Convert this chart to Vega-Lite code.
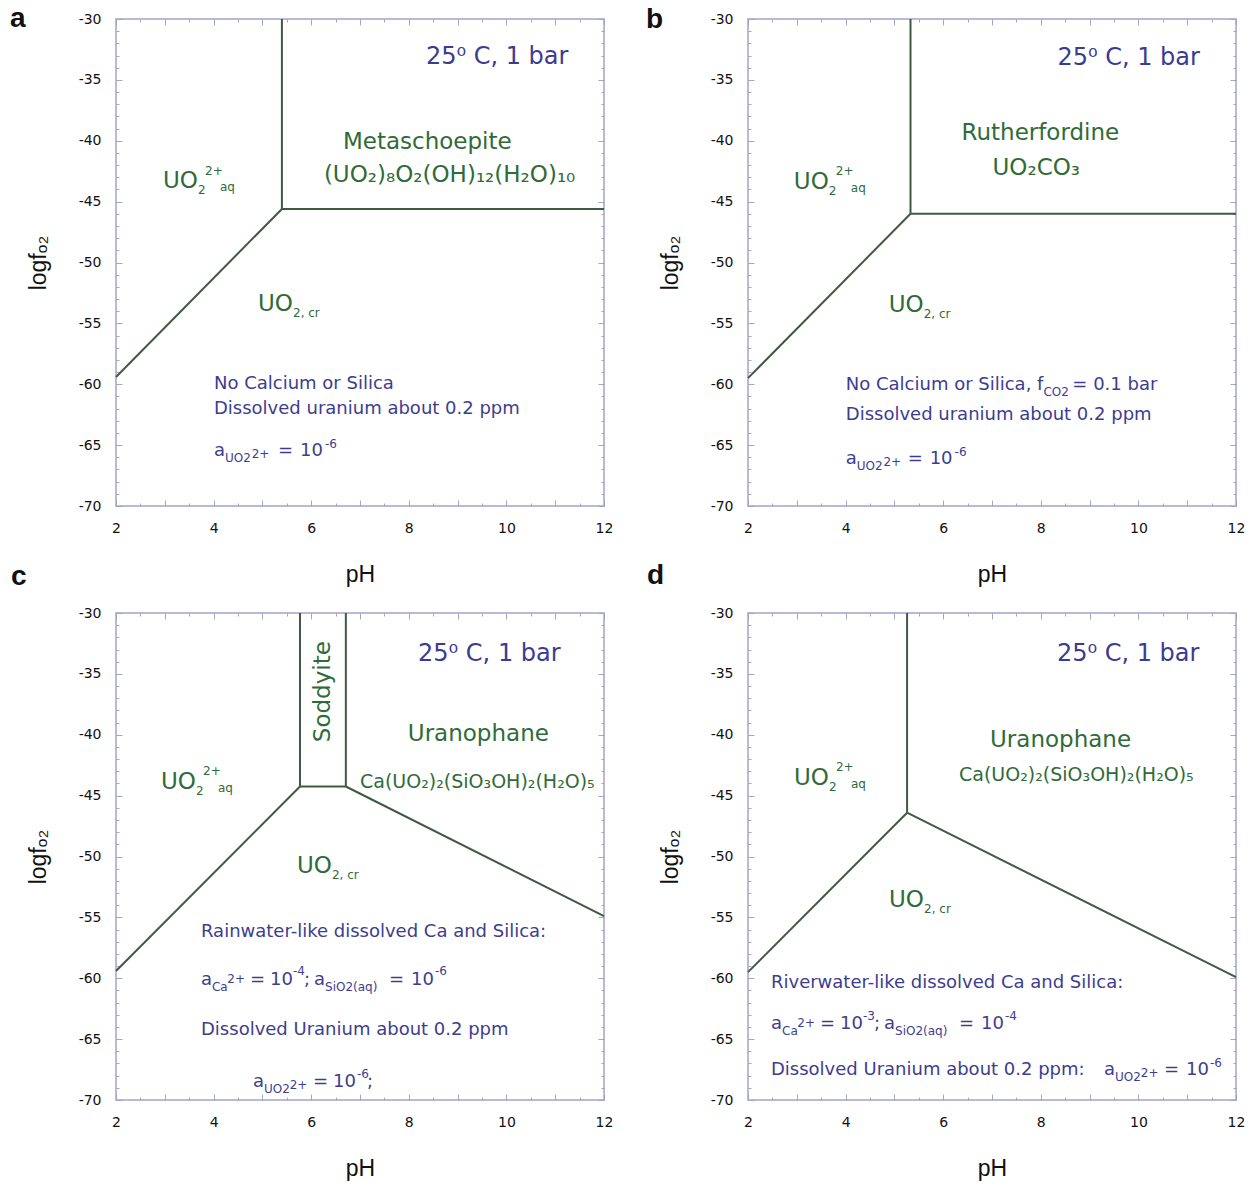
{
  "$schema": "https://vega.github.io/schema/vega-lite/v6.json",
  "padding": {"left": 9, "top": 4, "right": 5, "bottom": 2},
  "bounds": "flush",
  "columns": 2,
  "spacing": {"row": 107, "column": 144},
  "datasets": {
    "lines": [
      {"panel": "a", "x": 5.40, "y": -30, "x2": 5.40, "y2": -45.6},
      {"panel": "a", "x": 5.40, "y": -45.6, "x2": 12, "y2": -45.6},
      {"panel": "a", "x": 2, "y": -59.4, "x2": 5.40, "y2": -45.6},
      {"panel": "b", "x": 5.33, "y": -30, "x2": 5.33, "y2": -46.0},
      {"panel": "b", "x": 5.33, "y": -46.0, "x2": 12, "y2": -46.0},
      {"panel": "b", "x": 2, "y": -59.5, "x2": 5.33, "y2": -46.0},
      {"panel": "c", "x": 5.77, "y": -30, "x2": 5.77, "y2": -44.25},
      {"panel": "c", "x": 6.71, "y": -30, "x2": 6.71, "y2": -44.25},
      {"panel": "c", "x": 5.77, "y": -44.25, "x2": 6.71, "y2": -44.25},
      {"panel": "c", "x": 2, "y": -59.4, "x2": 5.77, "y2": -44.25},
      {"panel": "c", "x": 6.71, "y": -44.25, "x2": 12, "y2": -54.9},
      {"panel": "d", "x": 5.26, "y": -30, "x2": 5.26, "y2": -46.4},
      {"panel": "d", "x": 2, "y": -59.5, "x2": 5.26, "y2": -46.4},
      {"panel": "d", "x": 5.26, "y": -46.4, "x2": 12, "y2": -59.9}
    ],
    "blueHead": [
      {"panel": "a", "x": 8.35, "y": -33.7, "label": "25⁰ C, 1 bar"},
      {"panel": "b", "x": 8.34, "y": -33.79, "label": "25⁰ C, 1 bar"},
      {"panel": "c", "x": 8.19, "y": -33.93, "label": "25⁰ C, 1 bar"},
      {"panel": "d", "x": 8.33, "y": -33.94, "label": "25⁰ C, 1 bar"}
    ],
    "greenBig": [
      {"panel": "a", "x": 6.65, "y": -40.68, "label": "Metaschoepite"},
      {"panel": "a", "x": 6.26, "y": -43.39, "label": "(UO₂)₈O₂(OH)₁₂(H₂O)₁₀"},
      {"panel": "a", "x": 2.963, "y": -43.88, "label": "UO"},
      {"panel": "a", "x": 4.91, "y": -53.98, "label": "UO"},
      {"panel": "b", "x": 6.376, "y": -39.96, "label": "Rutherfordine"},
      {"panel": "b", "x": 7.01, "y": -42.84, "label": "UO₂CO₃"},
      {"panel": "b", "x": 2.94, "y": -43.99, "label": "UO"},
      {"panel": "b", "x": 4.883, "y": -54.03, "label": "UO"},
      {"panel": "c", "x": 7.98, "y": -40.55, "label": "Uranophane"},
      {"panel": "c", "x": 2.922, "y": -44.48, "label": "UO"},
      {"panel": "c", "x": 5.709, "y": -51.35, "label": "UO"},
      {"panel": "d", "x": 6.959, "y": -41.01, "label": "Uranophane"},
      {"panel": "d", "x": 2.943, "y": -44.13, "label": "UO"},
      {"panel": "d", "x": 4.889, "y": -54.15, "label": "UO"}
    ],
    "greenSmall": [
      {"panel": "a", "x": 3.68, "y": -44.37, "label": "2"},
      {"panel": "a", "x": 3.824, "y": -42.81, "label": "2+"},
      {"panel": "a", "x": 4.131, "y": -44.13, "label": "aq"},
      {"panel": "a", "x": 5.627, "y": -54.48, "label": "2, cr"},
      {"panel": "b", "x": 3.656, "y": -44.49, "label": "2"},
      {"panel": "b", "x": 3.8, "y": -42.84, "label": "2+"},
      {"panel": "b", "x": 4.106, "y": -44.24, "label": "aq"},
      {"panel": "b", "x": 5.599, "y": -54.53, "label": "2, cr"},
      {"panel": "c", "x": 3.639, "y": -44.97, "label": "2"},
      {"panel": "c", "x": 3.783, "y": -43.33, "label": "2+"},
      {"panel": "c", "x": 4.09, "y": -44.72, "label": "aq"},
      {"panel": "c", "x": 6.426, "y": -51.84, "label": "2, cr"},
      {"panel": "d", "x": 3.66, "y": -44.62, "label": "2"},
      {"panel": "d", "x": 3.803, "y": -42.98, "label": "2+"},
      {"panel": "d", "x": 4.111, "y": -44.37, "label": "aq"},
      {"panel": "d", "x": 5.607, "y": -54.64, "label": "2, cr"}
    ],
    "greenMid": [
      {"panel": "c", "x": 7.0, "y": -44.4, "label": "Ca(UO₂)₂(SiO₃OH)₂(H₂O)₅"},
      {"panel": "d", "x": 6.324, "y": -43.8, "label": "Ca(UO₂)₂(SiO₃OH)₂(H₂O)₅"}
    ],
    "greenRot": [
      {"panel": "c", "x": 6.24, "y": -36.46, "label": "Soddyite"}
    ],
    "blueNote": [
      {"panel": "a", "x": 4.008, "y": -60.39, "label": "No Calcium or Silica"},
      {"panel": "a", "x": 4.008, "y": -62.44, "label": "Dissolved uranium about 0.2 ppm"},
      {"panel": "a", "x": 4.008, "y": -65.89, "label": "a"},
      {"panel": "a", "x": 5.32, "y": -65.89, "label": "="},
      {"panel": "a", "x": 5.77, "y": -65.89, "label": "10"},
      {"panel": "b", "x": 4.004, "y": -60.45, "label": "No Calcium or Silica, f"},
      {"panel": "b", "x": 8.646, "y": -60.45, "label": "= 0.1 bar"},
      {"panel": "b", "x": 4.004, "y": -62.92, "label": "Dissolved uranium about 0.2 ppm"},
      {"panel": "b", "x": 4.004, "y": -66.54, "label": "a"},
      {"panel": "b", "x": 5.272, "y": -66.54, "label": "="},
      {"panel": "b", "x": 5.722, "y": -66.54, "label": "10"},
      {"panel": "c", "x": 3.742, "y": -56.59, "label": "Rainwater-like dissolved Ca and Silica:"},
      {"panel": "c", "x": 3.742, "y": -60.59, "label": "a"},
      {"panel": "c", "x": 4.746, "y": -60.59, "label": "="},
      {"panel": "c", "x": 5.156, "y": -60.59, "label": "10"},
      {"panel": "c", "x": 5.852, "y": -60.59, "label": ";"},
      {"panel": "c", "x": 6.057, "y": -60.59, "label": "a"},
      {"panel": "c", "x": 7.594, "y": -60.59, "label": "="},
      {"panel": "c", "x": 8.045, "y": -60.59, "label": "10"},
      {"panel": "c", "x": 3.742, "y": -64.68, "label": "Dissolved Uranium about 0.2 ppm"},
      {"panel": "c", "x": 4.807, "y": -68.94, "label": "a"},
      {"panel": "c", "x": 6.037, "y": -68.94, "label": "="},
      {"panel": "c", "x": 6.447, "y": -68.94, "label": "10"},
      {"panel": "c", "x": 7.143, "y": -68.94, "label": ";"},
      {"panel": "d", "x": 2.471, "y": -60.8, "label": "Riverwater-like dissolved Ca and Silica:"},
      {"panel": "d", "x": 2.472, "y": -64.17, "label": "a"},
      {"panel": "d", "x": 3.476, "y": -64.17, "label": "="},
      {"panel": "d", "x": 3.886, "y": -64.17, "label": "10"},
      {"panel": "d", "x": 4.582, "y": -64.17, "label": ";"},
      {"panel": "d", "x": 4.787, "y": -64.17, "label": "a"},
      {"panel": "d", "x": 6.324, "y": -64.17, "label": "="},
      {"panel": "d", "x": 6.775, "y": -64.17, "label": "10"},
      {"panel": "d", "x": 2.471, "y": -67.95, "label": "Dissolved Uranium about 0.2 ppm:"},
      {"panel": "d", "x": 9.295, "y": -67.95, "label": "a"},
      {"panel": "d", "x": 10.525, "y": -67.95, "label": "="},
      {"panel": "d", "x": 10.975, "y": -67.95, "label": "10"}
    ],
    "blueSmall": [
      {"panel": "a", "x": 4.234, "y": -66.39, "label": "UO2"},
      {"panel": "a", "x": 4.78, "y": -66.06, "label": "2+"},
      {"panel": "a", "x": 6.283, "y": -65.24, "label": "-6"},
      {"panel": "b", "x": 8.053, "y": -60.95, "label": "CO2"},
      {"panel": "b", "x": 4.229, "y": -67.04, "label": "UO2"},
      {"panel": "b", "x": 4.775, "y": -66.71, "label": "2+"},
      {"panel": "b", "x": 6.233, "y": -65.88, "label": "-6"},
      {"panel": "c", "x": 3.967, "y": -61.08, "label": "Ca"},
      {"panel": "c", "x": 4.28, "y": -60.43, "label": "2+"},
      {"panel": "c", "x": 5.627, "y": -59.77, "label": "-4"},
      {"panel": "c", "x": 6.283, "y": -61.08, "label": "SiO2(aq)"},
      {"panel": "c", "x": 8.537, "y": -59.77, "label": "-6"},
      {"panel": "c", "x": 5.033, "y": -69.43, "label": "UO2"},
      {"panel": "c", "x": 5.56, "y": -69.1, "label": "2+"},
      {"panel": "c", "x": 6.939, "y": -68.2, "label": "-6"},
      {"panel": "d", "x": 2.697, "y": -64.66, "label": "Ca"},
      {"panel": "d", "x": 3.01, "y": -64.0, "label": "2+"},
      {"panel": "d", "x": 4.357, "y": -63.43, "label": "-3"},
      {"panel": "d", "x": 5.013, "y": -64.66, "label": "SiO2(aq)"},
      {"panel": "d", "x": 7.267, "y": -63.43, "label": "-4"},
      {"panel": "d", "x": 9.52, "y": -68.44, "label": "UO2"},
      {"panel": "d", "x": 10.05, "y": -68.11, "label": "2+"},
      {"panel": "d", "x": 11.467, "y": -67.29, "label": "-6"}
    ]
  },
  "concat": [
    {
      "width": 488, "height": 487,
      "title": {"text": "a", "anchor": "start", "frame": "group", "orient": "top", "offset": 0, "baseline": "middle", "dx": -106, "dy": 35},
      "resolve": {"axis": {"x": "independent", "y": "independent"}},
      "layer": [
        {"data": {"name": "lines"}, "transform": [{"filter": "datum.panel == 'a'"}],
         "mark": {"type": "rule", "color": "#3f5a41", "strokeWidth": 2},
         "encoding": {
           "x": {"field": "x", "type": "quantitative", "scale": {"domain": [2, 12], "nice": false, "zero": false}, "axis": {"orient": "bottom", "values": [2, 4, 6, 8, 10, 12], "ticks": false, "labelPadding": 15, "labelFlush": false, "labelOverlap": false, "title": "pH", "titlePadding": 28}},
           "y": {"field": "y", "type": "quantitative", "scale": {"domain": [-70, -30], "nice": false, "zero": false}, "axis": {"orient": "left", "values": [-70, -65, -60, -55, -50, -45, -40, -35, -30], "labelExpr": "'' + datum.value", "ticks": false, "labelPadding": 15, "labelOverlap": false, "title": "logfₒ₂", "titlePadding": 28}},
           "x2": {"field": "x2"}, "y2": {"field": "y2"}}},
        {"data": {"name": "greenBig"}, "transform": [{"filter": "datum.panel == 'a'"}],
         "mark": {"type": "text", "align": "left", "baseline": "alphabetic", "fontSize": 23, "color": "#2f6b38"},
         "encoding": {
           "x": {"field": "x", "type": "quantitative", "axis": {"orient": "bottom", "values": [2, 3, 4, 5, 6, 7, 8, 9, 10, 11, 12], "labels": false, "title": null, "tickSize": -6}},
           "y": {"field": "y", "type": "quantitative", "axis": {"orient": "left", "values": [-70, -65, -60, -55, -50, -45, -40, -35, -30], "labels": false, "title": null, "tickSize": -6}},
           "text": {"field": "label"}}},
        {"data": {"name": "greenSmall"}, "transform": [{"filter": "datum.panel == 'a'"}],
         "mark": {"type": "text", "align": "left", "baseline": "alphabetic", "fontSize": 12, "color": "#2f6b38"},
         "encoding": {
           "x": {"field": "x", "type": "quantitative", "axis": {"orient": "bottom", "values": [2, 2.5, 3, 3.5, 4, 4.5, 5, 5.5, 6, 6.5, 7, 7.5, 8, 8.5, 9, 9.5, 10, 10.5, 11, 11.5, 12], "labels": false, "title": null, "tickSize": -3}},
           "y": {"field": "y", "type": "quantitative", "axis": {"orient": "left", "values": [-70, -69, -68, -67, -66, -65, -64, -63, -62, -61, -60, -59, -58, -57, -56, -55, -54, -53, -52, -51, -50, -49, -48, -47, -46, -45, -44, -43, -42, -41, -40, -39, -38, -37, -36, -35, -34, -33, -32, -31, -30], "labels": false, "title": null, "tickSize": -3}},
           "text": {"field": "label"}}},
        {"data": {"name": "blueNote"}, "transform": [{"filter": "datum.panel == 'a'"}],
         "mark": {"type": "text", "align": "left", "baseline": "alphabetic", "fontSize": 18, "color": "#3d3d8f"},
         "encoding": {
           "x": {"field": "x", "type": "quantitative", "axis": {"orient": "top", "values": [2, 3, 4, 5, 6, 7, 8, 9, 10, 11, 12], "labels": false, "title": null, "tickSize": -6}},
           "y": {"field": "y", "type": "quantitative", "axis": {"orient": "right", "values": [-70, -65, -60, -55, -50, -45, -40, -35, -30], "labels": false, "title": null, "tickSize": -6}},
           "text": {"field": "label"}}},
        {"data": {"name": "blueSmall"}, "transform": [{"filter": "datum.panel == 'a'"}],
         "mark": {"type": "text", "align": "left", "baseline": "alphabetic", "fontSize": 12, "color": "#3d3d8f"},
         "encoding": {
           "x": {"field": "x", "type": "quantitative", "axis": {"orient": "top", "values": [2, 2.5, 3, 3.5, 4, 4.5, 5, 5.5, 6, 6.5, 7, 7.5, 8, 8.5, 9, 9.5, 10, 10.5, 11, 11.5, 12], "labels": false, "title": null, "tickSize": -3}},
           "y": {"field": "y", "type": "quantitative", "axis": {"orient": "right", "values": [-70, -69, -68, -67, -66, -65, -64, -63, -62, -61, -60, -59, -58, -57, -56, -55, -54, -53, -52, -51, -50, -49, -48, -47, -46, -45, -44, -43, -42, -41, -40, -39, -38, -37, -36, -35, -34, -33, -32, -31, -30], "labels": false, "title": null, "tickSize": -3}},
           "text": {"field": "label"}}},
        {"data": {"name": "blueHead"}, "transform": [{"filter": "datum.panel == 'a'"}],
         "mark": {"type": "text", "align": "left", "baseline": "alphabetic", "fontSize": 24, "color": "#3b3b92"},
         "encoding": {
           "x": {"field": "x", "type": "quantitative", "axis": null},
           "y": {"field": "y", "type": "quantitative", "axis": null},
           "text": {"field": "label"}}}
      ]
    },
    {
      "width": 488, "height": 487,
      "title": {"text": "b", "anchor": "start", "frame": "group", "orient": "top", "offset": 0, "baseline": "middle", "dx": -102, "dy": 36},
      "resolve": {"axis": {"x": "independent", "y": "independent"}},
      "layer": [
        {"data": {"name": "lines"}, "transform": [{"filter": "datum.panel == 'b'"}],
         "mark": {"type": "rule", "color": "#3f5a41", "strokeWidth": 2},
         "encoding": {
           "x": {"field": "x", "type": "quantitative", "scale": {"domain": [2, 12], "nice": false, "zero": false}, "axis": {"orient": "bottom", "values": [2, 4, 6, 8, 10, 12], "ticks": false, "labelPadding": 15, "labelFlush": false, "labelOverlap": false, "title": "pH", "titlePadding": 28}},
           "y": {"field": "y", "type": "quantitative", "scale": {"domain": [-70, -30], "nice": false, "zero": false}, "axis": {"orient": "left", "values": [-70, -65, -60, -55, -50, -45, -40, -35, -30], "labelExpr": "'' + datum.value", "ticks": false, "labelPadding": 15, "labelOverlap": false, "title": "logfₒ₂", "titlePadding": 28}},
           "x2": {"field": "x2"}, "y2": {"field": "y2"}}},
        {"data": {"name": "greenBig"}, "transform": [{"filter": "datum.panel == 'b'"}],
         "mark": {"type": "text", "align": "left", "baseline": "alphabetic", "fontSize": 23, "color": "#2f6b38"},
         "encoding": {
           "x": {"field": "x", "type": "quantitative", "axis": {"orient": "bottom", "values": [2, 3, 4, 5, 6, 7, 8, 9, 10, 11, 12], "labels": false, "title": null, "tickSize": -6}},
           "y": {"field": "y", "type": "quantitative", "axis": {"orient": "left", "values": [-70, -65, -60, -55, -50, -45, -40, -35, -30], "labels": false, "title": null, "tickSize": -6}},
           "text": {"field": "label"}}},
        {"data": {"name": "greenSmall"}, "transform": [{"filter": "datum.panel == 'b'"}],
         "mark": {"type": "text", "align": "left", "baseline": "alphabetic", "fontSize": 12, "color": "#2f6b38"},
         "encoding": {
           "x": {"field": "x", "type": "quantitative", "axis": {"orient": "bottom", "values": [2, 2.5, 3, 3.5, 4, 4.5, 5, 5.5, 6, 6.5, 7, 7.5, 8, 8.5, 9, 9.5, 10, 10.5, 11, 11.5, 12], "labels": false, "title": null, "tickSize": -3}},
           "y": {"field": "y", "type": "quantitative", "axis": {"orient": "left", "values": [-70, -69, -68, -67, -66, -65, -64, -63, -62, -61, -60, -59, -58, -57, -56, -55, -54, -53, -52, -51, -50, -49, -48, -47, -46, -45, -44, -43, -42, -41, -40, -39, -38, -37, -36, -35, -34, -33, -32, -31, -30], "labels": false, "title": null, "tickSize": -3}},
           "text": {"field": "label"}}},
        {"data": {"name": "blueNote"}, "transform": [{"filter": "datum.panel == 'b'"}],
         "mark": {"type": "text", "align": "left", "baseline": "alphabetic", "fontSize": 18, "color": "#3d3d8f"},
         "encoding": {
           "x": {"field": "x", "type": "quantitative", "axis": {"orient": "top", "values": [2, 3, 4, 5, 6, 7, 8, 9, 10, 11, 12], "labels": false, "title": null, "tickSize": -6}},
           "y": {"field": "y", "type": "quantitative", "axis": {"orient": "right", "values": [-70, -65, -60, -55, -50, -45, -40, -35, -30], "labels": false, "title": null, "tickSize": -6}},
           "text": {"field": "label"}}},
        {"data": {"name": "blueSmall"}, "transform": [{"filter": "datum.panel == 'b'"}],
         "mark": {"type": "text", "align": "left", "baseline": "alphabetic", "fontSize": 12, "color": "#3d3d8f"},
         "encoding": {
           "x": {"field": "x", "type": "quantitative", "axis": {"orient": "top", "values": [2, 2.5, 3, 3.5, 4, 4.5, 5, 5.5, 6, 6.5, 7, 7.5, 8, 8.5, 9, 9.5, 10, 10.5, 11, 11.5, 12], "labels": false, "title": null, "tickSize": -3}},
           "y": {"field": "y", "type": "quantitative", "axis": {"orient": "right", "values": [-70, -69, -68, -67, -66, -65, -64, -63, -62, -61, -60, -59, -58, -57, -56, -55, -54, -53, -52, -51, -50, -49, -48, -47, -46, -45, -44, -43, -42, -41, -40, -39, -38, -37, -36, -35, -34, -33, -32, -31, -30], "labels": false, "title": null, "tickSize": -3}},
           "text": {"field": "label"}}},
        {"data": {"name": "blueHead"}, "transform": [{"filter": "datum.panel == 'b'"}],
         "mark": {"type": "text", "align": "left", "baseline": "alphabetic", "fontSize": 24, "color": "#3b3b92"},
         "encoding": {
           "x": {"field": "x", "type": "quantitative", "axis": null},
           "y": {"field": "y", "type": "quantitative", "axis": null},
           "text": {"field": "label"}}}
      ]
    },
    {
      "width": 488, "height": 487,
      "title": {"text": "c", "anchor": "start", "frame": "group", "orient": "top", "offset": 0, "baseline": "middle", "dx": -105, "dy": -1},
      "resolve": {"axis": {"x": "independent", "y": "independent"}},
      "layer": [
        {"data": {"name": "lines"}, "transform": [{"filter": "datum.panel == 'c'"}],
         "mark": {"type": "rule", "color": "#3f5a41", "strokeWidth": 2},
         "encoding": {
           "x": {"field": "x", "type": "quantitative", "scale": {"domain": [2, 12], "nice": false, "zero": false}, "axis": {"orient": "bottom", "values": [2, 4, 6, 8, 10, 12], "ticks": false, "labelPadding": 15, "labelFlush": false, "labelOverlap": false, "title": "pH", "titlePadding": 28}},
           "y": {"field": "y", "type": "quantitative", "scale": {"domain": [-70, -30], "nice": false, "zero": false}, "axis": {"orient": "left", "values": [-70, -65, -60, -55, -50, -45, -40, -35, -30], "labelExpr": "'' + datum.value", "ticks": false, "labelPadding": 15, "labelOverlap": false, "title": "logfₒ₂", "titlePadding": 28}},
           "x2": {"field": "x2"}, "y2": {"field": "y2"}}},
        {"data": {"name": "greenBig"}, "transform": [{"filter": "datum.panel == 'c'"}],
         "mark": {"type": "text", "align": "left", "baseline": "alphabetic", "fontSize": 23, "color": "#2f6b38"},
         "encoding": {
           "x": {"field": "x", "type": "quantitative", "axis": {"orient": "bottom", "values": [2, 3, 4, 5, 6, 7, 8, 9, 10, 11, 12], "labels": false, "title": null, "tickSize": -6}},
           "y": {"field": "y", "type": "quantitative", "axis": {"orient": "left", "values": [-70, -65, -60, -55, -50, -45, -40, -35, -30], "labels": false, "title": null, "tickSize": -6}},
           "text": {"field": "label"}}},
        {"data": {"name": "greenSmall"}, "transform": [{"filter": "datum.panel == 'c'"}],
         "mark": {"type": "text", "align": "left", "baseline": "alphabetic", "fontSize": 12, "color": "#2f6b38"},
         "encoding": {
           "x": {"field": "x", "type": "quantitative", "axis": {"orient": "bottom", "values": [2, 2.5, 3, 3.5, 4, 4.5, 5, 5.5, 6, 6.5, 7, 7.5, 8, 8.5, 9, 9.5, 10, 10.5, 11, 11.5, 12], "labels": false, "title": null, "tickSize": -3}},
           "y": {"field": "y", "type": "quantitative", "axis": {"orient": "left", "values": [-70, -69, -68, -67, -66, -65, -64, -63, -62, -61, -60, -59, -58, -57, -56, -55, -54, -53, -52, -51, -50, -49, -48, -47, -46, -45, -44, -43, -42, -41, -40, -39, -38, -37, -36, -35, -34, -33, -32, -31, -30], "labels": false, "title": null, "tickSize": -3}},
           "text": {"field": "label"}}},
        {"data": {"name": "blueNote"}, "transform": [{"filter": "datum.panel == 'c'"}],
         "mark": {"type": "text", "align": "left", "baseline": "alphabetic", "fontSize": 18, "color": "#3d3d8f"},
         "encoding": {
           "x": {"field": "x", "type": "quantitative", "axis": {"orient": "top", "values": [2, 3, 4, 5, 6, 7, 8, 9, 10, 11, 12], "labels": false, "title": null, "tickSize": -6}},
           "y": {"field": "y", "type": "quantitative", "axis": {"orient": "right", "values": [-70, -65, -60, -55, -50, -45, -40, -35, -30], "labels": false, "title": null, "tickSize": -6}},
           "text": {"field": "label"}}},
        {"data": {"name": "blueSmall"}, "transform": [{"filter": "datum.panel == 'c'"}],
         "mark": {"type": "text", "align": "left", "baseline": "alphabetic", "fontSize": 12, "color": "#3d3d8f"},
         "encoding": {
           "x": {"field": "x", "type": "quantitative", "axis": {"orient": "top", "values": [2, 2.5, 3, 3.5, 4, 4.5, 5, 5.5, 6, 6.5, 7, 7.5, 8, 8.5, 9, 9.5, 10, 10.5, 11, 11.5, 12], "labels": false, "title": null, "tickSize": -3}},
           "y": {"field": "y", "type": "quantitative", "axis": {"orient": "right", "values": [-70, -69, -68, -67, -66, -65, -64, -63, -62, -61, -60, -59, -58, -57, -56, -55, -54, -53, -52, -51, -50, -49, -48, -47, -46, -45, -44, -43, -42, -41, -40, -39, -38, -37, -36, -35, -34, -33, -32, -31, -30], "labels": false, "title": null, "tickSize": -3}},
           "text": {"field": "label"}}},
        {"data": {"name": "blueHead"}, "transform": [{"filter": "datum.panel == 'c'"}],
         "mark": {"type": "text", "align": "left", "baseline": "alphabetic", "fontSize": 24, "color": "#3b3b92"},
         "encoding": {
           "x": {"field": "x", "type": "quantitative", "axis": null},
           "y": {"field": "y", "type": "quantitative", "axis": null},
           "text": {"field": "label"}}},
        {"data": {"name": "greenMid"}, "transform": [{"filter": "datum.panel == 'c'"}],
         "mark": {"type": "text", "align": "left", "baseline": "alphabetic", "fontSize": 19, "color": "#2f6b38"},
         "encoding": {
           "x": {"field": "x", "type": "quantitative", "axis": null},
           "y": {"field": "y", "type": "quantitative", "axis": null},
           "text": {"field": "label"}}},
        {"data": {"name": "greenRot"}, "transform": [{"filter": "datum.panel == 'c'"}],
         "mark": {"type": "text", "align": "center", "baseline": "middle", "angle": 270, "fontSize": 23, "color": "#2f6b38"},
         "encoding": {
           "x": {"field": "x", "type": "quantitative", "axis": null},
           "y": {"field": "y", "type": "quantitative", "axis": null},
           "text": {"field": "label"}}}
      ]
    },
    {
      "width": 488, "height": 487,
      "title": {"text": "d", "anchor": "start", "frame": "group", "orient": "top", "offset": 0, "baseline": "middle", "dx": -101, "dy": -2},
      "resolve": {"axis": {"x": "independent", "y": "independent"}},
      "layer": [
        {"data": {"name": "lines"}, "transform": [{"filter": "datum.panel == 'd'"}],
         "mark": {"type": "rule", "color": "#3f5a41", "strokeWidth": 2},
         "encoding": {
           "x": {"field": "x", "type": "quantitative", "scale": {"domain": [2, 12], "nice": false, "zero": false}, "axis": {"orient": "bottom", "values": [2, 4, 6, 8, 10, 12], "ticks": false, "labelPadding": 15, "labelFlush": false, "labelOverlap": false, "title": "pH", "titlePadding": 28}},
           "y": {"field": "y", "type": "quantitative", "scale": {"domain": [-70, -30], "nice": false, "zero": false}, "axis": {"orient": "left", "values": [-70, -65, -60, -55, -50, -45, -40, -35, -30], "labelExpr": "'' + datum.value", "ticks": false, "labelPadding": 15, "labelOverlap": false, "title": "logfₒ₂", "titlePadding": 28}},
           "x2": {"field": "x2"}, "y2": {"field": "y2"}}},
        {"data": {"name": "greenBig"}, "transform": [{"filter": "datum.panel == 'd'"}],
         "mark": {"type": "text", "align": "left", "baseline": "alphabetic", "fontSize": 23, "color": "#2f6b38"},
         "encoding": {
           "x": {"field": "x", "type": "quantitative", "axis": {"orient": "bottom", "values": [2, 3, 4, 5, 6, 7, 8, 9, 10, 11, 12], "labels": false, "title": null, "tickSize": -6}},
           "y": {"field": "y", "type": "quantitative", "axis": {"orient": "left", "values": [-70, -65, -60, -55, -50, -45, -40, -35, -30], "labels": false, "title": null, "tickSize": -6}},
           "text": {"field": "label"}}},
        {"data": {"name": "greenSmall"}, "transform": [{"filter": "datum.panel == 'd'"}],
         "mark": {"type": "text", "align": "left", "baseline": "alphabetic", "fontSize": 12, "color": "#2f6b38"},
         "encoding": {
           "x": {"field": "x", "type": "quantitative", "axis": {"orient": "bottom", "values": [2, 2.5, 3, 3.5, 4, 4.5, 5, 5.5, 6, 6.5, 7, 7.5, 8, 8.5, 9, 9.5, 10, 10.5, 11, 11.5, 12], "labels": false, "title": null, "tickSize": -3}},
           "y": {"field": "y", "type": "quantitative", "axis": {"orient": "left", "values": [-70, -69, -68, -67, -66, -65, -64, -63, -62, -61, -60, -59, -58, -57, -56, -55, -54, -53, -52, -51, -50, -49, -48, -47, -46, -45, -44, -43, -42, -41, -40, -39, -38, -37, -36, -35, -34, -33, -32, -31, -30], "labels": false, "title": null, "tickSize": -3}},
           "text": {"field": "label"}}},
        {"data": {"name": "blueNote"}, "transform": [{"filter": "datum.panel == 'd'"}],
         "mark": {"type": "text", "align": "left", "baseline": "alphabetic", "fontSize": 18, "color": "#3d3d8f"},
         "encoding": {
           "x": {"field": "x", "type": "quantitative", "axis": {"orient": "top", "values": [2, 3, 4, 5, 6, 7, 8, 9, 10, 11, 12], "labels": false, "title": null, "tickSize": -6}},
           "y": {"field": "y", "type": "quantitative", "axis": {"orient": "right", "values": [-70, -65, -60, -55, -50, -45, -40, -35, -30], "labels": false, "title": null, "tickSize": -6}},
           "text": {"field": "label"}}},
        {"data": {"name": "blueSmall"}, "transform": [{"filter": "datum.panel == 'd'"}],
         "mark": {"type": "text", "align": "left", "baseline": "alphabetic", "fontSize": 12, "color": "#3d3d8f"},
         "encoding": {
           "x": {"field": "x", "type": "quantitative", "axis": {"orient": "top", "values": [2, 2.5, 3, 3.5, 4, 4.5, 5, 5.5, 6, 6.5, 7, 7.5, 8, 8.5, 9, 9.5, 10, 10.5, 11, 11.5, 12], "labels": false, "title": null, "tickSize": -3}},
           "y": {"field": "y", "type": "quantitative", "axis": {"orient": "right", "values": [-70, -69, -68, -67, -66, -65, -64, -63, -62, -61, -60, -59, -58, -57, -56, -55, -54, -53, -52, -51, -50, -49, -48, -47, -46, -45, -44, -43, -42, -41, -40, -39, -38, -37, -36, -35, -34, -33, -32, -31, -30], "labels": false, "title": null, "tickSize": -3}},
           "text": {"field": "label"}}},
        {"data": {"name": "blueHead"}, "transform": [{"filter": "datum.panel == 'd'"}],
         "mark": {"type": "text", "align": "left", "baseline": "alphabetic", "fontSize": 24, "color": "#3b3b92"},
         "encoding": {
           "x": {"field": "x", "type": "quantitative", "axis": null},
           "y": {"field": "y", "type": "quantitative", "axis": null},
           "text": {"field": "label"}}},
        {"data": {"name": "greenMid"}, "transform": [{"filter": "datum.panel == 'd'"}],
         "mark": {"type": "text", "align": "left", "baseline": "alphabetic", "fontSize": 19, "color": "#2f6b38"},
         "encoding": {
           "x": {"field": "x", "type": "quantitative", "axis": null},
           "y": {"field": "y", "type": "quantitative", "axis": null},
           "text": {"field": "label"}}}
      ]
    }
  ],
  "config": {
    "background": "white",
    "view": {"stroke": "#a4a4c8", "strokeWidth": 1.5},
    "axis": {"grid": false, "domain": false, "tickColor": "#a4a4c8", "tickWidth": 1, "labelFont": "DejaVu Sans", "labelFontSize": 14, "labelColor": "#111111", "titleFont": "Liberation Sans", "titleFontSize": 23, "titleFontWeight": "normal", "titleColor": "#111111"},
    "title": {"font": "Liberation Sans", "fontSize": 28, "fontWeight": "bold", "color": "#111111"},
    "text": {"font": "DejaVu Sans"}
  }
}
